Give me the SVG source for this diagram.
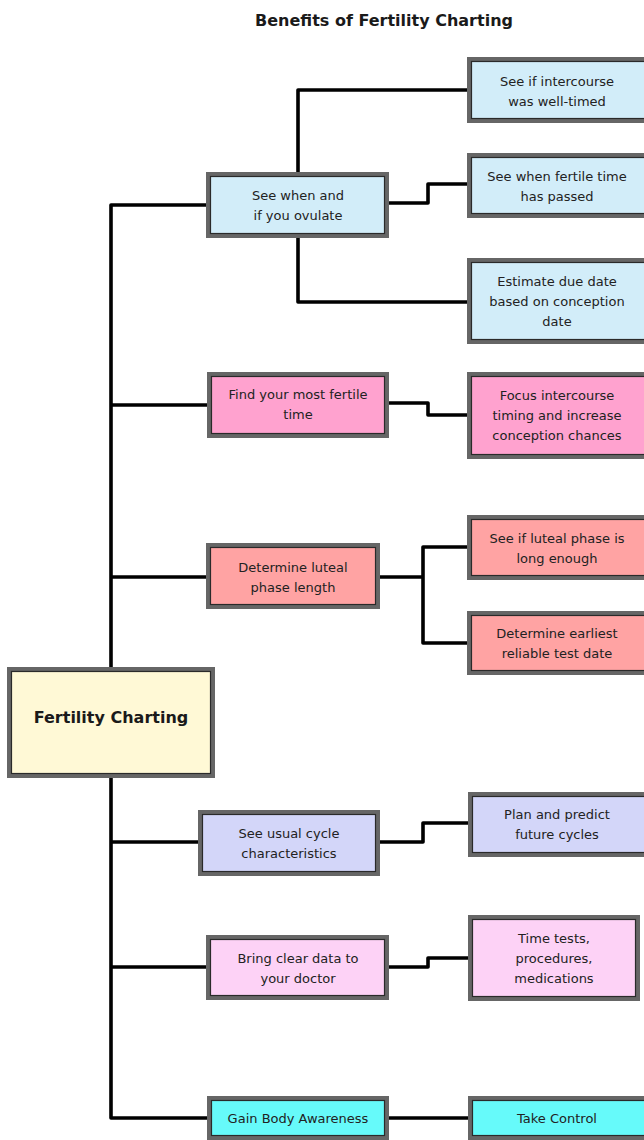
<svg xmlns="http://www.w3.org/2000/svg" width="644" height="1140" viewBox="0 0 644 1140">
<style>
.t{font-family:"DejaVu Sans","Liberation Sans",sans-serif;font-size:13px;fill:#222;text-anchor:middle}
.tb{font-family:"DejaVu Sans","Liberation Sans",sans-serif;font-size:16px;font-weight:bold;fill:#1a1a1a;text-anchor:middle}
.o{stroke:#666;stroke-width:4}
.i{fill:none;stroke:#2a2a2a;stroke-width:1.2}
.c{fill:none;stroke:#000;stroke-width:3.6;stroke-linejoin:round;stroke-linecap:butt}
.blue{fill:#d2edf9}.pink{fill:#ffa2cf}.salmon{fill:#ffa3a3}.lav{fill:#d3d6f9}.lpink{fill:#fdd2f6}.cyan{fill:#66fafa}.yel{fill:#fff9d6}
</style>
<text class="tb" x="384" y="26">Benefits of Fertility Charting</text>
<g id="connectors">
<path class="c" d="M208,205 H111 V1118 H209"/>
<path class="c" d="M111,405 H209"/>
<path class="c" d="M111,577 H208"/>
<path class="c" d="M111,842 H200"/>
<path class="c" d="M111,967 H208"/>
<path class="c" d="M298,174 V90 H469"/>
<path class="c" d="M387,203 H428 V184 H469"/>
<path class="c" d="M298,236 V302 H469"/>
<path class="c" d="M387,403 H428 V415 H469"/>
<path class="c" d="M378,577 H423"/>
<path class="c" d="M469,547 H423 V643 H469"/>
<path class="c" d="M378,842 H423 V823 H470"/>
<path class="c" d="M387,967 H428 V958 H470"/>
<path class="c" d="M387,1118 H470"/>
</g>
<g id="root">
<rect class="o yel" x="9" y="669" width="204" height="107"/>
<rect class="i" x="11.5" y="671.5" width="199" height="102"/>
<text class="tb" x="111" y="723">Fertility Charting</text>
</g>
<g id="ovulate">
<rect class="o blue" x="208" y="174" width="179" height="62"/>
<rect class="i" x="210.5" y="176.5" width="174" height="57"/>
<text class="t" x="298" y="200">See when and</text>
<text class="t" x="298" y="220">if you ovulate</text>
</g>
<g id="intercourse">
<rect class="o blue" x="469" y="59" width="180" height="62"/>
<rect class="i" x="471.5" y="61.5" width="175" height="57"/>
<text class="t" x="557" y="86">See if intercourse</text>
<text class="t" x="557" y="106">was well-timed</text>
</g>
<g id="fertilepassed">
<rect class="o blue" x="469" y="155" width="180" height="61"/>
<rect class="i" x="471.5" y="157.5" width="175" height="56"/>
<text class="t" x="557" y="181">See when fertile time</text>
<text class="t" x="557" y="201">has passed</text>
</g>
<g id="duedate">
<rect class="o blue" x="469" y="260" width="180" height="82"/>
<rect class="i" x="471.5" y="262.5" width="175" height="77"/>
<text class="t" x="557" y="286">Estimate due date</text>
<text class="t" x="557" y="306">based on conception</text>
<text class="t" x="557" y="326">date</text>
</g>
<g id="mostfertile">
<rect class="o pink" x="209" y="374" width="178" height="62"/>
<rect class="i" x="211.5" y="376.5" width="173" height="57"/>
<text class="t" x="298" y="399">Find your most fertile</text>
<text class="t" x="298" y="419">time</text>
</g>
<g id="focus">
<rect class="o pink" x="469" y="374" width="180" height="83"/>
<rect class="i" x="471.5" y="376.5" width="175" height="78"/>
<text class="t" x="557" y="400">Focus intercourse</text>
<text class="t" x="557" y="420">timing and increase</text>
<text class="t" x="557" y="440">conception chances</text>
</g>
<g id="luteal">
<rect class="o salmon" x="208" y="545" width="170" height="62"/>
<rect class="i" x="210.5" y="547.5" width="165" height="57"/>
<text class="t" x="293" y="572">Determine luteal</text>
<text class="t" x="293" y="592">phase length</text>
</g>
<g id="lutealenough">
<rect class="o salmon" x="469" y="517" width="180" height="61"/>
<rect class="i" x="471.5" y="519.5" width="175" height="56"/>
<text class="t" x="557" y="543">See if luteal phase is</text>
<text class="t" x="557" y="563">long enough</text>
</g>
<g id="testdate">
<rect class="o salmon" x="469" y="613" width="180" height="60"/>
<rect class="i" x="471.5" y="615.5" width="175" height="55"/>
<text class="t" x="557" y="638">Determine earliest</text>
<text class="t" x="557" y="658">reliable test date</text>
</g>
<g id="cycle">
<rect class="o lav" x="200" y="812" width="178" height="62"/>
<rect class="i" x="202.5" y="814.5" width="173" height="57"/>
<text class="t" x="289" y="838">See usual cycle</text>
<text class="t" x="289" y="858">characteristics</text>
</g>
<g id="plan">
<rect class="o lav" x="470" y="794" width="179" height="61"/>
<rect class="i" x="472.5" y="796.5" width="174" height="56"/>
<text class="t" x="557" y="819">Plan and predict</text>
<text class="t" x="557" y="839">future cycles</text>
</g>
<g id="doctor">
<rect class="o lpink" x="208" y="937" width="179" height="61"/>
<rect class="i" x="210.5" y="939.5" width="174" height="56"/>
<text class="t" x="298" y="963">Bring clear data to</text>
<text class="t" x="298" y="983">your doctor</text>
</g>
<g id="timetests">
<rect class="o lpink" x="470" y="917" width="168" height="82"/>
<rect class="i" x="472.5" y="919.5" width="163" height="77"/>
<text class="t" x="554" y="943">Time tests,</text>
<text class="t" x="554" y="963">procedures,</text>
<text class="t" x="554" y="983">medications</text>
</g>
<g id="awareness">
<rect class="o cyan" x="209" y="1098" width="178" height="40"/>
<rect class="i" x="211.5" y="1100.5" width="173" height="35"/>
<text class="t" x="298" y="1123">Gain Body Awareness</text>
</g>
<g id="control">
<rect class="o cyan" x="470" y="1098" width="179" height="40"/>
<rect class="i" x="472.5" y="1100.5" width="174" height="35"/>
<text class="t" x="557" y="1123">Take Control</text>
</g>
</svg>
